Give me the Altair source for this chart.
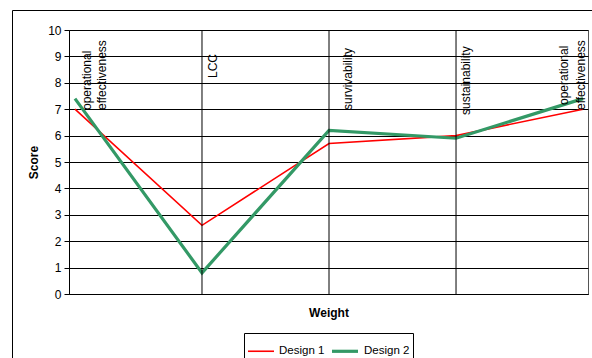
import altair as alt
import pandas as pd

# ---- data ----
criteria = ["operational effectiveness", "LCC", "survivability", "sustainability", "operational effectiveness"]
positions = [0, 1, 2, 3, 4]
design1 = [7.0, 2.6, 5.7, 6.0, 7.0]
design2 = [7.4, 0.8, 6.2, 5.9, 7.4]
series_names = ["Design 1", "Design 2"]
y_ticks = list(range(0, 11))

FONT = "Liberation Sans"

rows = []
for i, c in enumerate(criteria):
    rows.append({"x": positions[i], "crit": c, "score": design1[i], "series": series_names[0]})
for i, c in enumerate(criteria):
    rows.append({"x": positions[i], "crit": c, "score": design2[i], "series": series_names[1]})
df = pd.DataFrame(rows)

xscale = alt.Scale(domain=[-0.047, 4.039], nice=False, zero=False)
yscale = alt.Scale(domain=[0, 10], nice=False)

xaxis = alt.Axis(labels=False, ticks=False, grid=False, domainColor="#000000",
                 title="Weight", titleFont=FONT, titleFontSize=12,
                 titleFontWeight="bold", titleColor="#000000", titlePadding=13)
yaxis = alt.Axis(values=y_ticks, grid=True, gridColor="#000000", gridWidth=1,
                 domainColor="#000000", tickColor="#000000", tickSize=5,
                 labelFont=FONT, labelFontSize=12, labelColor="#000000",
                 labelPadding=3, labelOverlap=False, title="Score", titleFont=FONT,
                 titleFontSize=12, titleFontWeight="bold", titleColor="#000000",
                 titlePadding=7)

# outer frame
frame = alt.Chart(alt.Data(values=[{}])).mark_rect(
    filled=False, stroke="#000000", strokeWidth=1
).encode(x=alt.value(-56.5), x2=alt.value(620), y=alt.value(-19.5), y2=alt.value(420))

lines = alt.Chart(df).mark_line().encode(
    x=alt.X("x:Q", scale=xscale, axis=xaxis),
    y=alt.Y("score:Q", scale=yscale, axis=yaxis),
    color=alt.Color("series:N", scale=alt.Scale(domain=series_names, range=["#FF0000", "#339966"]),
                    legend=alt.Legend(title=None)),
    strokeWidth=alt.StrokeWidth("series:N", scale=alt.Scale(domain=series_names, range=[1.6, 3.2]),
                                legend=None),
    order="x:Q",
)

# vertical separators at interior criteria
sep_df = pd.DataFrame({"x": positions[1:4]})
seps = alt.Chart(sep_df).mark_rule(color="#000000", strokeWidth=1).encode(
    x=alt.X("x:Q", scale=xscale, axis=xaxis)
)

# rotated criterion labels (one line per layer); offsets are pixel placements
label_lines = [
    (0, "operational", -80, 12),
    (0, "effectiveness", -80, 27),
    (1, "LCC", -48, 11),
    (2, "survivability", -80, 19),
    (3, "sustainability", -85, 10),
    (4, "operational", -75, -19),
    (4, "effectiveness", -80, -2),
]
label_layers = []
for idx, txt, ddx, ddy in label_lines:
    ldf = pd.DataFrame({"x": [positions[idx]], "score": [y_ticks[-1]], "t": [txt]})
    label_layers.append(
        alt.Chart(ldf).mark_text(angle=270, align="left", baseline="middle", font=FONT,
                                 fontSize=12, color="#000000", dx=ddx, dy=ddy).encode(
            x=alt.X("x:Q", scale=xscale, axis=xaxis),
            y=alt.Y("score:Q", scale=yscale, axis=yaxis),
            text="t:N")
    )

chart = alt.layer(frame, lines, seps, *label_layers).properties(
    width=519, height=264,
    autosize=alt.AutoSizeParams(type="none"),
    padding={"left": 69, "top": 30, "right": 4, "bottom": 64},
    background="#ffffff",
).configure_view(
    stroke="#555555", strokeWidth=1
).configure_legend(
    orient="none", legendX=175, legendY=303, direction="horizontal",
    strokeColor="#000000", padding=3, symbolType="stroke", symbolSize=676,
    symbolStrokeWidth=2.5, labelFont=FONT, labelFontSize=11.5, labelColor="#000000",
    columnPadding=0, labelOffset=4, cornerRadius=0,
)

chart.save("out.html", embed_options={"renderer": "svg", "actions": False})
